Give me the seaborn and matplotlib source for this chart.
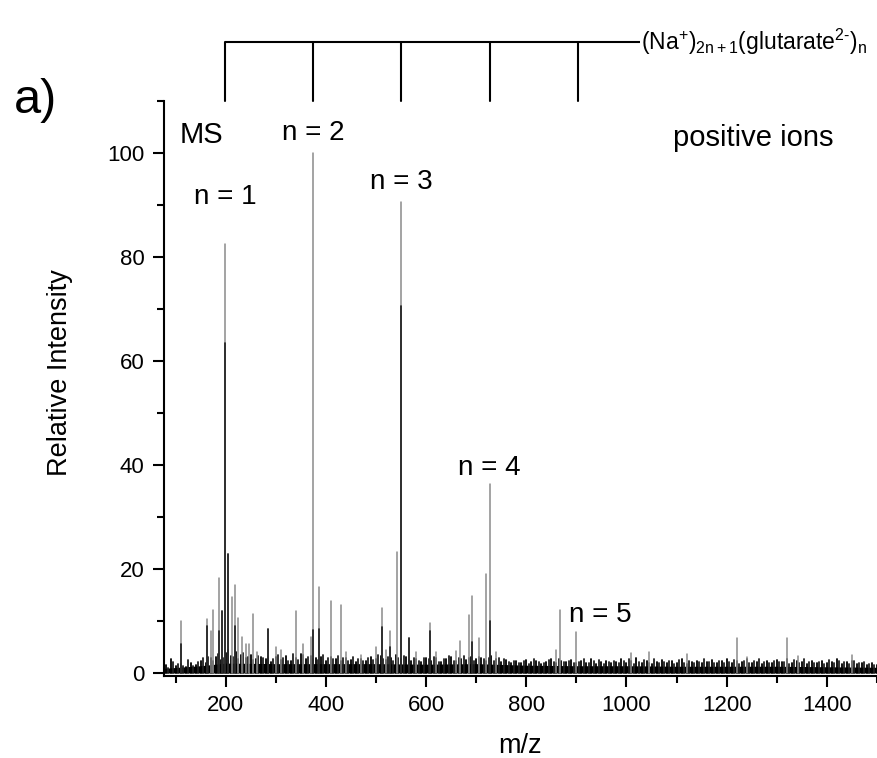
import numpy as np
import pandas as pd
import matplotlib
matplotlib.use("Agg")
import matplotlib.pyplot as plt
import seaborn as sns
from matplotlib.ticker import MultipleLocator

# ---------------- data ----------------
peak_mz = [111, 162, 170, 175, 187, 193, 199, 205, 213, 219, 225, 233, 240, 246,
           255, 263, 285, 300, 310, 340, 355, 370, 375, 386, 411, 431, 440, 470,
           500, 513, 520, 528, 543, 551, 565, 580, 608, 620, 660, 667, 685, 692,
           705, 719, 727, 740, 860, 867, 900, 1010, 1044, 1121, 1221, 1240, 1321,
           1342, 1451]
peak_int = [10.0, 10.4, 8.0, 12.2, 18.3, 12.0, 82.5, 22.8, 14.7, 17.0, 10.6, 7.0, 5.5, 5.5,
            11.3, 4.0, 8.5, 5.0, 4.5, 11.9, 5.5, 7.0, 100.0, 16.5, 13.8, 13.0, 4.0, 3.5,
            5.0, 12.5, 4.5, 8.1, 23.2, 90.5, 6.7, 4.0, 9.6, 4.0, 4.2, 6.1, 11.2, 14.8,
            6.7, 19.0, 36.3, 4.0, 4.5, 12.1, 7.8, 3.8, 4.1, 3.7, 6.7, 3.0, 6.8,
            3.3, 3.5]
dark_mz = [111, 162, 187, 193, 199, 205, 219, 285, 375, 386, 513, 528, 551, 565, 608, 692, 727]
dark_int = [5.5, 9.0, 8.0, 12.0, 63.5, 22.8, 9.0, 8.5, 8.3, 8.5, 8.9, 5.0, 70.5, 6.7, 8.0, 6.0, 10.0]

noise_start, noise_step = 80, 10
noise_int = [1.5, 2.6, 1.4, 1.8, 1.2, 2.0, 1.6, 2.4, 1.9, 2.8,
             3.0, 2.5, 3.8, 3.2, 4.0, 3.5, 2.8, 3.4, 2.6, 3.0,
             2.7, 2.2, 3.0, 2.5, 3.3, 2.4, 2.9, 3.6, 2.6, 3.2,
             2.8, 3.1, 2.4, 3.0, 2.6, 2.3, 2.9, 2.5, 2.2, 2.7,
             2.4, 3.0, 2.6, 3.2, 2.5, 2.8, 3.4, 2.6, 3.0, 2.4,
             2.6, 2.2, 2.9, 2.4, 2.8, 2.1, 2.6, 3.0, 2.3, 2.7,
             2.5, 3.1, 2.6, 2.9, 2.4, 3.2, 2.7, 2.2, 2.5, 2.0,
             2.3, 1.9, 2.5, 2.1, 2.4, 1.8, 2.2, 2.6, 2.0, 2.4,
             2.1, 2.5, 1.9, 2.3, 2.0, 2.6, 1.8, 2.2, 2.4, 1.9,
             2.2, 2.6, 1.9, 2.3, 2.8, 2.0, 2.4, 1.8, 2.2, 2.5,
             1.9, 2.3, 2.0, 2.6, 1.8, 2.2, 2.4, 1.9, 2.1, 2.5,
             2.0, 2.4, 2.7, 1.9, 2.3, 2.1, 2.6, 2.0, 2.2, 1.8,
             2.3, 2.0, 2.5, 2.1, 2.7, 1.9, 2.4, 2.2, 1.8, 2.3,
             2.0, 2.4, 1.9, 2.2, 2.6, 1.8, 2.1, 2.3, 1.7, 2.0,
             1.6, 1.9, 1.5]
noise2_start = 85
noise2_int = [1.0, 2.2, 1.8, 1.3, 2.5, 1.4, 2.1, 2.9, 3.1, 2.3,
              3.6, 2.8, 4.4, 3.0, 2.7, 3.9, 3.1, 2.5, 3.3, 2.8,
              3.1, 2.6, 3.5, 2.8, 2.4, 3.7, 2.5, 3.4, 3.0, 2.6,
              2.5, 3.4, 2.9, 2.6, 3.3, 2.8, 2.4, 3.1, 2.7, 2.3,
              2.9, 2.5, 3.5, 2.7, 3.1, 2.4, 2.9, 3.3, 2.5, 2.8,
              2.3, 2.9, 2.6, 3.1, 2.2, 2.7, 3.2, 2.4, 2.9, 3.3,
              2.9, 2.4, 3.0, 2.6, 2.8, 2.3, 2.9, 2.7, 2.1, 2.4,
              2.0, 2.4, 1.8, 2.6, 2.2, 2.0, 2.5, 2.1, 2.7, 2.2,
              2.4, 1.9, 2.2, 2.6, 1.9, 2.3, 2.5, 1.8, 2.1, 2.3,
              2.0, 2.3, 2.7, 1.8, 2.1, 2.5, 1.9, 2.6, 2.0, 2.2,
              2.4, 1.8, 2.5, 2.0, 2.3, 1.9, 2.1, 2.6, 2.2, 1.9,
              2.3, 1.9, 2.2, 2.5, 1.8, 2.4, 2.0, 2.3, 2.6, 2.1,
              1.9, 2.4, 2.1, 2.2, 1.8, 2.5, 2.0, 2.6, 2.1, 1.9,
              2.2, 1.8, 2.5, 2.0, 2.3, 2.1, 1.7, 2.4, 2.0, 2.2,
              1.7, 1.5]
floor_mz = [77, 150, 200, 300, 400, 500, 600, 700, 800, 900, 1000, 1100, 1200, 1300, 1400, 1500]
floor_int = [0.9, 1.4, 1.9, 1.8, 1.8, 1.8, 1.7, 1.8, 1.5, 1.4, 1.4, 1.3, 1.3, 1.3, 1.2, 1.1]

series_n = [1, 2, 3, 4, 5]
series_mz = [199, 375, 551, 727, 903]
label_mz = [199, 375, 551, 727, 947]
label_y = [91.5, 103.8, 94.4, 39.4, 11.2]

x_ticks = [200, 400, 600, 800, 1000, 1200, 1400]
y_ticks = [0, 20, 40, 60, 80, 100]


def stems(mz, h):
    mz = np.asarray(mz, dtype=float)
    h = np.asarray(h, dtype=float)
    return pd.DataFrame({
        "mz": np.repeat(mz, 2),
        "intensity": np.column_stack([np.zeros(len(h)), h]).ravel(),
        "unit": np.repeat(np.arange(len(mz)), 2),
    })


sns.set_theme(style="ticks")
plt.rcParams["font.family"] = ["Liberation Sans", "DejaVu Sans"]
plt.rcParams["mathtext.fontset"] = "custom"
plt.rcParams["mathtext.rm"] = "Liberation Sans"
plt.rcParams["mathtext.it"] = "Liberation Sans"
plt.rcParams["mathtext.bf"] = "Liberation Sans"

fig = plt.figure(figsize=(8.77, 7.58), dpi=100)
ax = fig.add_axes([164 / 877, 1 - 675.6 / 758, 1 - 164 / 877, (675.6 - 101) / 758])

# dense noise floor
ax.fill_between(floor_mz, 0, floor_int, color="black", lw=0)
noise_mz = noise_start + noise_step * np.arange(len(noise_int))
noise2_mz = noise2_start + noise_step * np.arange(len(noise2_int))
sns.lineplot(data=stems(noise_mz, noise_int), x="mz", y="intensity", units="unit",
             estimator=None, color="black", lw=1.3, ax=ax, legend=False)
sns.lineplot(data=stems(noise2_mz, noise2_int), x="mz", y="intensity", units="unit",
             estimator=None, color="#202020", lw=1.3, ax=ax, legend=False)
# peaks (grey full height, black lower part)
sns.lineplot(data=stems(peak_mz, peak_int), x="mz", y="intensity", units="unit",
             estimator=None, color="#8a8a8a", lw=1.1, ax=ax, legend=False)
sns.lineplot(data=stems(dark_mz, dark_int), x="mz", y="intensity", units="unit",
             estimator=None, color="#1a1a1a", lw=1.2, ax=ax, legend=False)

ax.set_xlim(77, 1500)
ax.set_ylim(-0.5, 110)
ax.set_xticks(x_ticks)
ax.set_yticks(y_ticks)
ax.xaxis.set_minor_locator(MultipleLocator(100))
ax.yaxis.set_minor_locator(MultipleLocator(10))
ax.tick_params(axis="both", which="major", direction="out", length=8, width=1.5,
               labelsize=16, color="black", labelcolor="black", pad=6)
ax.tick_params(axis="both", which="minor", direction="out", length=5, width=1.5,
               color="black")
for s in ["top", "right"]:
    ax.spines[s].set_visible(False)
for s in ["left", "bottom"]:
    ax.spines[s].set_linewidth(1.5)
    ax.spines[s].set_color("black")

ax.set_xlabel("m/z", fontsize=19.5, labelpad=12, color="black")
ax.set_ylabel("Relative Intensity", fontsize=19.5, color="black")
ax.yaxis.set_label_coords(-0.1276, 0.527)

# annotations
for n, xm, yl in zip(series_n, label_mz, label_y):
    ax.text(xm, yl, f"n = {n}", fontsize=20, ha="center", va="center", color="black")
ax.text(151, 103.5, "MS", fontsize=21, ha="center", va="center", color="black")
ax.text(1253, 102.9, "positive ions", fontsize=21, ha="center", va="center", color="black")
fig.text(0.041, 0.868, "a)", fontsize=35, ha="center", va="center", color="black")

# cluster series bracket above the axes
bracket_y = 121.3
ax.plot([series_mz[0], 1027], [bracket_y, bracket_y], color="black", lw=1.5,
        clip_on=False, solid_capstyle="butt")
for xm in series_mz:
    ax.plot([xm, xm], [110, bracket_y], color="black", lw=1.5, clip_on=False)
ax.text(1029, bracket_y, r"(Na$^{+}$)$_{2n+1}$(glutarate$^{2\text{-}}$)$_{n}$",
        fontsize=16.5, ha="left", va="center", color="black", clip_on=False)

fig.savefig("out.png", dpi=100, facecolor="white")
